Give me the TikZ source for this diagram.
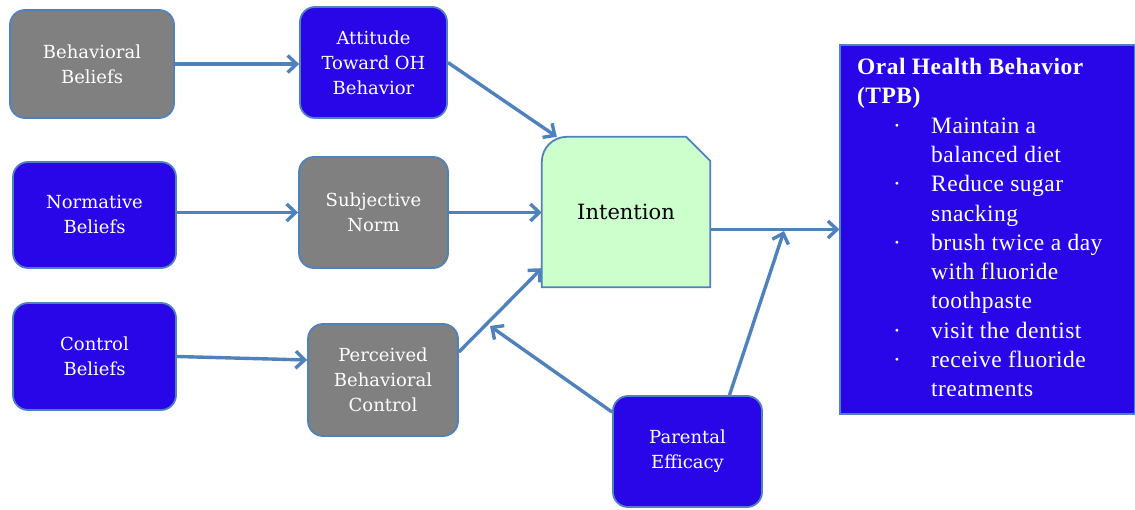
\documentclass[tikz,border=0pt]{standalone}
\usepackage{fontspec}
\usepackage{xcolor}
\usepackage{tikz}
\usetikzlibrary{arrows.meta, positioning, calc}
\newfontfamily\boxfont{DejaVu Serif}
\newfontfamily\listfont[LetterSpace=2]{Liberation Serif}
\definecolor{edgeblue}{RGB}{79, 129, 189}
\definecolor{deepblue}{RGB}{40, 6, 232}
\definecolor{midgray}{RGB}{128, 128, 128}
\definecolor{mint}{RGB}{204, 255, 204}
\newcommand{\ohbitem}[1]{\makebox[74pt][l]{\hspace*{36pt}\textperiodcentered}#1}
\newcommand{\ohbcont}[1]{\hspace*{74pt}#1}
\tikzset{
  baseblock/.style={
    rectangle, rounded corners=15pt, line width=1.8pt, draw=edgeblue,
    minimum height=111pt, minimum width=149pt, inner sep=0pt,
    align=center, text=white,
    font=\boxfont\fontsize{18pt}{25pt}\selectfont
  },
  grayblock/.style={baseblock, fill=midgray},
  blueblock/.style={baseblock, fill=deepblue},
  intentblock/.style={
    rectangle, minimum width=168pt, minimum height=150pt, inner sep=0pt,
    font=\boxfont\fontsize{21pt}{26pt}\selectfont
  },
  outcomeblock/.style={
    rectangle, draw=edgeblue, fill=deepblue, line width=1.2pt,
    minimum width=295pt, minimum height=369pt, inner sep=0pt
  },
  outcometext/.style={
    anchor=north west, inner sep=0pt, align=left, text=white,
    font=\listfont\fontsize{23.5pt}{29.3pt}\selectfont
  },
  flowline/.style={
    draw=edgeblue, line width=3.4pt, -{Straight Barb[length=9pt, width=17pt]}
  }
}
\begin{document}
\begin{tikzpicture}[x=1pt, y=-1pt]
  \useasboundingbox (0,0) rectangle (1135,510);

  % beliefs
  \node[grayblock, minimum width=164pt, minimum height=108pt] (bb) at (92,64) {Behavioral\\Beliefs};
  \node[blueblock, minimum width=163pt, minimum height=106pt] (nb) at (94.5,215) {Normative\\Beliefs};
  \node[blueblock, minimum width=163pt, minimum height=107pt] (cb) at (94.5,356.5) {Control\\Beliefs};

  % constructs
  \node[blueblock, minimum width=147pt] (att) at (373.5,62.5) {Attitude\\Toward OH\\Behavior};
  \node[grayblock] (sn) at (373.5,212.5) {Subjective\\Norm};
  \node[grayblock, minimum width=150pt, minimum height=112pt] (pbc) at (383,380) {Perceived\\Behavioral\\Control};

  \node[intentblock] (int) at (626,212) {};
  \draw[edgeblue, line width=1.8pt, fill=mint]
    (int.south west) -- (int.south east) -- ([yshift=-24pt]int.north east)
    -- ([xshift=-24pt]int.north east) -- ([xshift=25pt]int.north west)
    arc[start angle=90, end angle=180, radius=25pt] -- cycle;
  \node[intentblock] at (int) {Intention};

  \node[blueblock] (pe) at (687.5,451.5) {Parental\\Efficacy};

  \node[outcomeblock] (ohb) at (987.5,229.5) {};
  \node[outcometext] (ohbtxt) at (857,58) {%
    \textbf{Oral Health Behavior}\\
    \textbf{(TPB)}\\
    \ohbitem{Maintain a}\\
    \ohbcont{balanced diet}\\
    \ohbitem{Reduce sugar}\\
    \ohbcont{snacking}\\
    \ohbitem{brush twice a day}\\
    \ohbcont{with fluoride}\\
    \ohbcont{toothpaste}\\
    \ohbitem{visit the dentist}\\
    \ohbitem{receive fluoride}\\
    \ohbcont{treatments}};

  \coordinate (pe-tip) at (490,326);
  \coordinate (join) at (784,231);

  \draw[flowline] (bb.east) -- (bb.east -| att.west);
  \draw[flowline] (sn.west -| nb.east) -- (sn.west);
  \draw[flowline] (cb.east) -- ([yshift=20pt]pbc.west);
  \draw[flowline] (att.east) -- ([xshift=15pt]int.north west);
  \draw[flowline] (sn.east) -- (sn.east -| int.west);
  \draw[flowline] ([yshift=28pt]pbc.east) -- ([yshift=19pt]int.south west);
  \draw[flowline] ([yshift=-17pt]pe.north west) -- (pe-tip);
  \draw[flowline] ([xshift=42pt]pe.north) -- (join);
  \draw[flowline] (int.east |- ohb.west) -- (ohb.west);
\end{tikzpicture}
\end{document}
